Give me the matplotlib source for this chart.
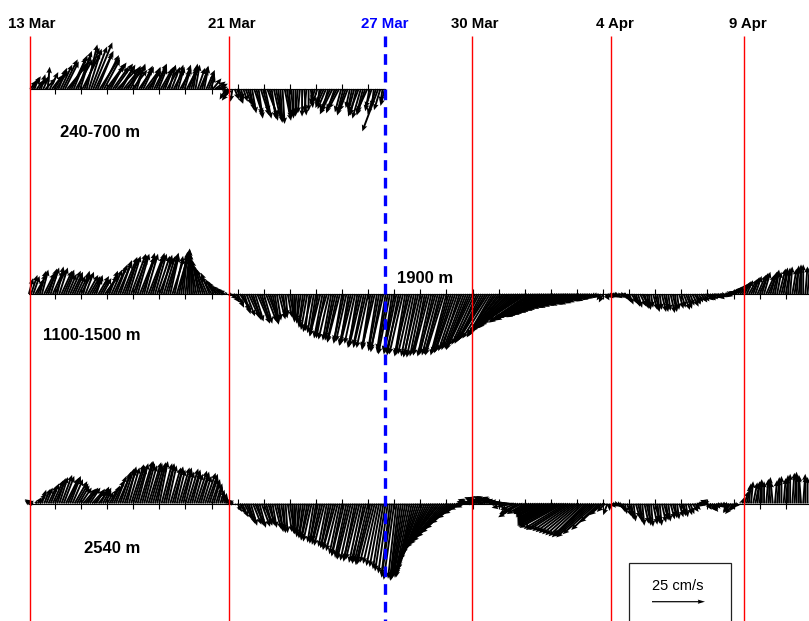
import matplotlib
matplotlib.use("Agg")
import matplotlib.pyplot as plt
import numpy as np
from matplotlib.patches import Rectangle

plt.rcParams['font.family'] = ['Liberation Sans', 'DejaVu Sans']

# time axis: day of March (fractional), 2-hourly current vectors (cm/s)
t_top = 13.05 + np.arange(164) / 12.0
t_deep = 13.0 + np.arange(360) / 12.0

# 240-700 m
u_top = [3, 4, 2, 3, 4, 2, 3, 5, 1, 4, 5, 6, 5.5, 4, 5.5, 7, 6.5, 9, 8.5, 7,
         6.5, 8, 6.5, 5, 8.5, 7, 5, 6, 7.5, 9, 8.5, 7, 9.5, 8, 7.5, 9, 8.5, 6, 7.5, 8.5,
         9.5, 7, 6.5, 8, 8.5, 6, 5.5, 7, 5, 4, 6.5, 5.5, 5, 7, 6.5, 5, 4, 6, 5, 4,
         5.5, 6, 4, 5, 3, 4, 5, 3.5, 3, 5, 4, 3, 5, 4, 3, 2, 2, 3.5, 4, 3,
         2, 4, 3, 2, 4, 5, 5, 4, 5, 2, -3, -2, -4, -1, 2, 3, 2, 1, 2, 3,
         3, 2, 2, 4, 3, 2, 4, 3, 3, 5, 4, 2, 3, 3, 2, 1, 1, 3, 2, 1,
         1, 0, 0, -1, -1, 0, 1, -1, 0, 1, -1, -2, -2, -1, -3, -4, -4, -3, -5, -6,
         -4, -5, -5, -3, -3, -4, -4, -2, -2, -3, -3, -5, -4, -3, -4, -5, -2, -3, -1, -4,
         -7.5, -3, -1, -2]
v_top = [4, 6, 5.5, 4, 5, 7, 6.5, 5, 10.5, 8, 6.5, 9, 8.5, 10, 11.5, 14, 13, 11, 12.5, 15,
         16, 14, 18, 16, 17, 19.5, 21, 19, 20, 22, 18, 17, 15, 16, 14, 12, 12.5, 11, 10.5, 12,
         9.5, 10.5, 11.5, 10, 9.5, 11, 10.5, 9, 11.5, 12, 9.5, 11, 10.5, 9.5, 8.5, 10, 10.5, 12, 11.5, 10,
         9.5, 11, 10.5, 9, 11.5, 10.5, 9.5, 11.5, 10.5, 9, 11.5, 10, 9.5, 11, 10.5, 12, 11.5, 10, 9.5, 11,
         10.5, 9, 7.5, 6, 5, 3.5, 2.5, 1, -1.5, -3, -5, -4, -5.5, -6, -5, -7, -6.5, -5, -6, -7.5,
         -8.5, -10, -11.5, -12, -13, -14, -12.5, -11, -14, -13, -15, -14, -13, -15, -16, -15, -16.5, -15, -14, -13,
         -12.5, -14, -13, -12, -11.5, -13, -12.5, -11, -10.5, -9, -7.5, -6, -6.5, -8, -7.5, -9, -9.5, -11, -10.5, -12,
         -11.5, -10, -9.5, -11, -11.5, -12.5, -10.5, -9, -9.5, -11, -12.5, -13, -14, -12, -12.5, -11, -10.5, -9, -8.5, -12,
         -20, -10, -6.5, -8]

# 1100-1500 m
u_mid = [2, 3, 3, 4, 4, 3, 3, 5, 5, 4, 4, 5, 5, 3, 4, 5, 5, 4, 4, 5,
         5, 4, 4, 5, 5, 3, 4, 5, 5, 4, 4, 3, 5, 4, 4, 6, 5.5, 4, 5, 6,
         5.5, 6.5, 5.5, 7, 6.5, 5, 5.5, 7, 6.5, 5.5, 5.5, 7, 6.5, 5, 5.5, 7, 6.5, 5.5, 5.5, 6,
         6.5, 5, 5.5, 6, 5, 4, 5.5, 4, 5, 4, 3, 2, 2, 1, 0, -1, -2, -3, -3, -4,
         -4, -5, -5, -4, -5, -4, -4, -5, -4, -3, -3, -1, 2, 3, 3, 4, 3, 5, 4, 3,
         4, 5, 5, 4, 4, 6, 5, 4, 4, 5, 5, 4, 3, 2, 2, 3, 3, 1, 1, 2,
         2, 1, 0, -1, -1, -2, -2, -3, -3, -2, -4, -3, -3, -4, -5, -4, -4, -6, -5, -4,
         -4, -5, -5, -6, -4, -5, -5, -4, -5.5, -6, -5, -4, -5.5, -6, -5, -6, -5.5, -4, -5, -6,
         -4, -5, -5, -6, -4, -5, -5.5, -4, -5, -6, -5.5, -7, -6.5, -5, -5.5, -7, -6.5, -6, -5.5, -7,
         -6.5, -6, -5.5, -7, -7.5, -6.5, -6.5, -8, -7.5, -7, -8.5, -9, -7.5, -8, -8.5, -9, -9.5, -9, -8.5, -10,
         -9.5, -10, -10.5, -11, -11.5, -11, -10.5, -12, -11.5, -12, -12.5, -13.5, -13, -12, -12.5, -14, -14, -15, -15, -16,
         -16, -17, -17, -18, -18, -19, -19, -20, -20, -21, -19, -20, -21, -20, -20, -22, -21, -20, -19, -20,
         -20, -19, -19, -18, -18, -17, -17, -16, -15, -15, -14, -13, -12.5, -11, -10.5, -9, -8.5, -7, -6.5, -5,
         -4, -3, -3, -2, -2, 2, 3, 4, 4, 3, 3, 4, 4, 3, 3, 2, 2, 3, 3, 2,
         2, 3, 3, 2, 2, 1, 1, 2, 2, 1, 1, 2, 2, 1, 1, 2, 2, 1, 1, 2,
         2, 3, 3, 2, 2, 3, 3, 2, 2, 3, 3, 4, 4, 3, 3, 4, 4, 3, 3, 4,
         4, 3, 3, 4, 4, 3, 3, 4, 4, 3, 3, 4, 4, 3, 3, 4, 4, 3, 3, 4,
         4, 3, 3, 2, 2, 3, 3, 2, 2, 1, 1, 2, 2, 1, 1, 0, 0, 1, 1, 2]
v_mid = [7.5, 9, 8.5, 7, 9.5, 11, 11.5, 10, 10.5, 12, 12.5, 11, 11.5, 13, 12.5, 11, 11.5, 10, 9.5, 11,
         10.5, 9, 8.5, 10, 9.5, 11, 10.5, 9, 8.5, 7, 7.5, 9, 8.5, 7, 7.5, 8.5, 9.5, 11, 11.5, 13,
         14, 15, 16, 17.5, 17, 16, 18, 19, 17, 18.5, 19, 17.5, 18, 19.5, 19, 18, 18, 19.5, 19, 18,
         17, 18.5, 18, 19.5, 19, 18, 17, 18, 17, 18.5, 19, 20, 21.5, 20, 21, 19.5, 19, 17.5, 16, 14.5,
         13, 12, 11.5, 10, 8.5, 7, 6, 5, 4, 3, 2, 1, -1, -2.5, -4, -5, -6.5, -7.5, -8.5, -9.5,
         -10.5, -11, -11.5, -12.5, -13, -14, -12.5, -13.5, -14, -13, -13, -14.5, -14, -13, -12.5, -12, -11.5, -11, -10.5, -11,
         -11.5, -12, -12.5, -13.5, -13, -14, -15, -16, -17, -17.5, -18, -18.5, -19, -20, -20, -21, -21, -20.5, -21.5, -22,
         -21, -22, -22.5, -23, -23.5, -22.5, -22.5, -24, -24.5, -24, -23.5, -25, -25.5, -25, -24.5, -25.5, -25.5, -26, -26.5, -25.5,
         -25.5, -27, -27.5, -26.5, -26.5, -28, -28.5, -27.5, -27.5, -28.5, -29, -28, -28.5, -29.5, -29, -28.5, -28.5, -29.5, -29, -30,
         -30, -29.5, -29, -28, -29, -29.5, -28.5, -29, -29, -28, -28.5, -29, -29, -28, -27.5, -28, -27.5, -27, -26.5, -26,
         -25.5, -26, -26.5, -25, -24.5, -24, -23.5, -23, -22.5, -22, -21.5, -21, -21, -20.5, -20, -19.5, -19, -18.5, -18, -17.5,
         -17, -16.5, -16, -16.5, -16, -15.5, -15, -14.5, -14, -13.5, -13, -13.5, -13, -12.5, -12.5, -12, -11.5, -11, -10.5, -11,
         -10.5, -10, -9.5, -9, -8.5, -8, -7.5, -7, -6.5, -6.5, -6, -5.5, -5.5, -5, -5, -4.5, -4, -3.5, -3.5, -3,
         -2.5, -2, -2, -3, -4, -3, -2, -1.5, -1, -1.5, -2, -1, -1.5, -2, -3, -4, -5, -4.5, -5.5, -6,
         -6.5, -6, -5.5, -7, -7.5, -7, -6.5, -7.5, -8.5, -8, -7.5, -8.5, -8.5, -7.5, -8, -9, -8.5, -8, -7.5, -7,
         -6.5, -7.5, -7, -6, -5.5, -6, -5, -4.5, -4, -4, -3.5, -3, -3, -2.5, -2.5, -2, -2, -2.5, -1.5, -1,
         -1, 0.5, 1.5, 2, 3, 3.5, 4, 5, 5.5, 6, 6.5, 7, 7.5, 8, 8.5, 9, 9.5, 10, 10.5, 9,
         9.5, 10.5, 11.5, 11, 10.5, 12, 12.5, 11.5, 11.5, 12.5, 13, 12, 12.5, 13.5, 13, 14, 14, 13, 13, 12.5]

# 2540 m
u_bot = [-2, -3, -3, 1, 2, 3, 2, 3, 3, 4, 4, 5, 5, 4, 4, 5, 5, 6, 5.5, 5,
         5, 6, 5.5, 5, 5, 6, 5.5, 5, 5, 6, 5.5, 4, 5, 4, 4, 3, 3, 4, 4, 5,
         5, 6, 5, 5.5, 5.5, 4.5, 5, 6, 5.5, 5, 5, 6, 5.5, 5, 5, 6, 5.5, 5, 5, 4,
         4, 5, 5, 4, 4, 5, 5, 4, 4, 5, 5, 4, 4, 5, 5, 4, 4, 5, 5, 4,
         4, 5, 5, 4, 4, 3, 3, 2, 2, 1, 1, -1, -2, -3, -3, 0, 2, 3, 3, 4,
         4, 3, 3, 4, 4, 3, 3, 4, 4, 3, 3, 2, 2, 3, 3, 2, 2, 1, 1, 2,
         2, 1, 0, -1, -1, -2, -2, -3, -3, -4, -4, -3, -3, -4, -4, -5, -5, -4, -4, -5,
         -5, -6, -5.5, -5, -5, -6, -5.5, -6, -6.5, -6, -5.5, -6.5, -6.5, -6, -5.5, -7, -6.5, -7, -7.5, -7,
         -6.5, -6, -5.5, -5, -5, -4.5, -4, -5, -5, -4, -4, -5, -5.5, -6, -6.5, -7, -7.5, -8.5, -9.5, -10.5,
         -11.5, -12, -13, -14, -15, -16, -16, -17, -17, -17.5, -17, -16.5, -16, -15, -14, -13, -11.5, -9.5, -7.5, -6,
         -4, -5, -5.5, -6, -6.5, -5, -5, -7, -7.5, -8, -8.5, -7, -6.5, -8, -9.5, -8, -7.5, -9, -10.5, -9,
         -8.5, -10, -9.5, -8, -7.5, -9, -10.5, -9.5, -8.5, -7, -7.5, -8.5, -9.5, -10, -10.5, -11.5, -12.5, -13, -14, -15,
         -16, -17, -18, -19, -20, -20.5, -21, -20, -20, -19.5, -19, -18.5, -18, -17.5, -17, -16.5, -16, -16.5, -17, -17.5,
         -18, -16, -13, -10, -6.5, -4, -2, 0, 2, 3, 3, 2, 2, 1, 1, 2, 2, 1, 1, 2,
         2, 1, 1, 2, 2, 1, 1, 2, 2, 1, 1, 2, 2, 1, 1, 2, 2, 1, 1, 2,
         2, 1, 1, 2, 2, 3, 3, 4, 4, 3, 3, 2, 2, 3, 3, 2, 2, 3, 3, 2,
         2, -1, -3, -4, -4, -3, -2, 0, 1, 2, 2, 1, 1, 2, 2, 1, 1, 0, 0, 1,
         1, -1, -1, 1, 1, 0, 0, 1, 1, 0, 0, 1, 1, 0, 0, -1, 1, 0, 0, 1]
v_bot = [1.5, 2, 1, 1.5, 3, 5, 6.5, 7, 7.5, 8.5, 9.5, 11, 11.5, 12, 12.5, 13.5, 13, 12, 12.5, 13,
         11.5, 10.5, 9.5, 8.5, 7.5, 7, 6.5, 7.5, 7.5, 6.5, 6, 7, 6.5, 8, 7.5, 6, 5.5, 7, 8.5, 11,
         13, 14, 15, 16.5, 16, 17.5, 17, 18.5, 18, 17, 19, 20, 20, 19, 18, 19.5, 19, 17.5, 18, 19.5,
         20, 19, 19, 18.5, 18, 17, 17, 17.5, 16, 17, 17, 16, 15, 16.5, 16, 15, 14, 15.5, 15, 14,
         13, 14.5, 14, 12.5, 11.5, 10.5, 9.5, 8, 6.5, 5.5, 5, 4, 3, 2, 1.5, -1, -4, -5, -6.5, -7.5,
         -8.5, -9.5, -10.5, -10, -9.5, -10.5, -11.5, -11, -10.5, -10, -9.5, -10.5, -11.5, -12, -12.5, -13.5, -13, -14, -14, -13.5,
         -13, -14.5, -14, -14.5, -15, -16, -16, -16.5, -17, -17.5, -18, -18.5, -19, -18, -18, -19.5, -20, -20.5, -21, -21,
         -21.5, -22, -22.5, -24, -24.5, -25, -25.5, -26, -26.5, -27, -27.5, -26.5, -26.5, -28, -28.5, -27.5, -27.5, -29, -29, -28,
         -28.5, -29.5, -30, -31, -32, -33, -34, -35, -36, -35.5, -35, -36.5, -36, -35, -34, -35, -35, -34, -33, -33,
         -32, -31.5, -31, -30, -29, -28, -26.5, -25, -23.5, -22, -21, -19.5, -18, -16, -14, -12, -9.5, -7, -5, -3,
         -2, 0, 1, 2, 1.5, 1, 2, 3, 2.5, 2, 3, 3.5, 3.5, 3, 3, 2.5, 2.5, 3, 2, 1.5,
         1, 0, -2, -1.5, -3, -5, -6.5, -4, -5, -4.5, -4, -4.5, -5, -5, -5.5, -6, -6.5, -7, -7.5, -8,
         -8.5, -9, -9.5, -10, -10.5, -11, -11.5, -12, -12.5, -12.5, -13, -13.5, -14, -14.5, -15, -15.5, -16, -15.5, -15, -15.5,
         -16, -14.5, -12.5, -9, -5.5, -4, -5.5, -3.5, -2, -1, -1.5, -2, -3, -4, -5, -6, -6.5, -7.5, -8.5, -7,
         -7.5, -9, -10.5, -9.5, -9.5, -10.5, -11, -10, -8.5, -9.5, -10.5, -9, -7.5, -8, -8.5, -7.5, -6.5, -7, -7.5, -6.5,
         -5.5, -6, -6.5, -5.5, -5, -4, -3, -1, 1.5, 2, 1, -1, -3, -3.5, -4, -3, -2.5, -2, -2, -1.5,
         -1.5, -3, -4, -4.5, -5, -3.5, -2, 1, 3, 6, 8.5, 9.5, 10.5, 10, 9.5, 10.5, 11.5, 11, 10.5, 11.5,
         12.5, 11.5, 10.5, 11, 11.5, 12.5, 13, 12, 12.5, 13.5, 14, 14.5, 15, 14, 13, 13.5, 14, 13, 12.5, 12]

depth_labels = ['240-700 m', '1100-1500 m', '2540 m']

event_days = [13.05, 20.65, 26.644, 29.97, 35.29, 40.41]
event_labels = ['13 Mar', '21 Mar', '27 Mar', '30 Mar', '4 Apr', '9 Apr']
label_days = [13.10, 20.76, 26.644, 30.09, 35.44, 40.55]
scale_speed = 25  # cm/s

# layout (vertical positions in pixels from the bottom)
row_y = [532, 327, 117.5]
px_per_cms = 2.12

fig = plt.figure(figsize=(8.09, 6.21), dpi=100)
ax = fig.add_axes([0, 0, 1, 1])
ax.set_xlim(11.893, 42.889)
ax.set_ylim(0, 621)
ax.axis('off')

qkw = dict(angles='uv', scale_units='dots', scale=1 / px_per_cms,
           units='dots', width=1.9, headwidth=3.0, headlength=3.4,
           headaxislength=3.0, color='k', pivot='tail')

series = [(t_top, u_top, v_top), (t_deep, u_mid, v_mid), (t_deep, u_bot, v_bot)]
for (t, u, v), y0 in zip(series, row_y):
    ax.plot([t[0], t[-1]], [y0, y0], color='k', lw=0.8, zorder=2)
    days = np.arange(14, int(t[-1]) + 1)
    ax.vlines(days, y0 - 5, y0 + 5, colors='k', lw=0.8, zorder=2)
    ax.quiver(t, np.full(len(t), y0), u, v, zorder=3, **qkw)

# event lines
for d in event_days:
    if d == event_days[2]:
        ax.plot([d, d], [585, 0], color='blue', lw=2.4, dashes=(3.2, 2.1), zorder=5)
    else:
        ax.vlines(d, 0, 585, colors='#ff0000', lw=1.0, zorder=4)

for d, lab in zip(label_days, event_labels):
    ax.text(d, 592.7, lab, ha='center', va='baseline', fontsize=10.8,
            fontweight='bold', color='blue' if lab == '27 Mar' else 'black')

# depth labels
ax.text(17.257, 484.3, depth_labels[0], ha='right', va='baseline', fontsize=12, fontweight='bold')
ax.text(17.257, 281, depth_labels[1], ha='right', va='baseline', fontsize=12, fontweight='bold')
ax.text(17.257, 68.3, depth_labels[2], ha='right', va='baseline', fontsize=12, fontweight='bold')
ax.text(27.103, 338.3, '1900 m', ha='left', va='baseline', fontsize=12, fontweight='bold')

# scale box
ax.add_patch(Rectangle((35.992, -5), 3.908, 63, facecolor='white',
                       edgecolor='#222222', lw=0.9, zorder=6))
ax.text(37.85, 31, '%d cm/s' % scale_speed, ha='center', va='baseline', fontsize=10.5, zorder=7)
sk = dict(qkw, width=1.2, headwidth=3.5, headlength=6, headaxislength=5.5)
ax.quiver([36.874], [19.3], [scale_speed], [0], zorder=7, **sk)

fig.savefig('out.png', dpi=100)
